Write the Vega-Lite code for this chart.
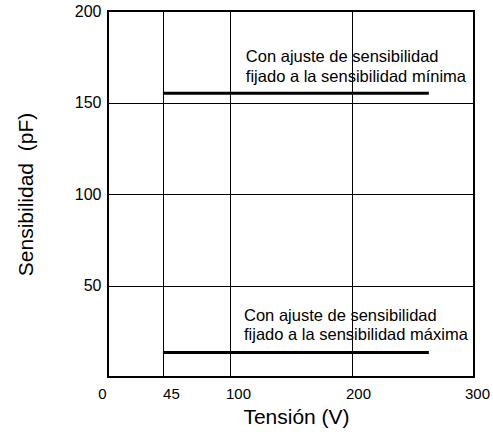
{
  "$schema": "https://vega.github.io/schema/vega-lite/v6.json",
  "width": 366,
  "height": 366,
  "autosize": {"type": "none"},
  "padding": {"left": 108, "top": 11, "right": 19, "bottom": 55},
  "config": {
    "font": "Liberation Sans",
    "view": {"stroke": "black", "strokeWidth": 2},
    "axis": {
      "domain": false,
      "ticks": false,
      "grid": true,
      "gridColor": "black",
      "gridWidth": 1,
      "gridOpacity": 1,
      "labelFont": "Liberation Sans",
      "labelFontSize": 16,
      "labelColor": "black",
      "titleFont": "Liberation Sans",
      "titleFontSize": 21,
      "titleFontWeight": "normal",
      "titleColor": "black"
    }
  },
  "datasets": {
    "curvas": [
      {"serie": "minima", "tension_ini": 45, "tension_fin": 263, "sens": 155},
      {"serie": "maxima", "tension_ini": 45, "tension_fin": 263, "sens": 13.4}
    ],
    "notas": [
      {"texto": "Con ajuste de sensibilidad", "tension": 113, "sens": 172.3},
      {"texto": "fijado a la sensibilidad mínima", "tension": 113, "sens": 161.4},
      {"texto": "Con ajuste de sensibilidad", "tension": 111.5, "sens": 30.8},
      {"texto": "fijado a la sensibilidad máxima", "tension": 111.5, "sens": 20.2}
    ]
  },
  "layer": [
    {
      "data": {"name": "curvas"},
      "mark": {"type": "rule", "color": "black", "strokeWidth": 3},
      "encoding": {
        "x": {
          "field": "tension_ini",
          "type": "quantitative",
          "scale": {"domain": [0, 300], "nice": false, "zero": false},
          "axis": {
            "values": [0, 45, 100, 200, 300],
            "title": "Tensión (V)",
            "labelFontSize": 15,
            "labelPadding": 9.5,
            "labelFlush": false,
            "labelOffset": {
              "condition": [
                {"test": "datum.value === 0", "value": -6},
                {"test": "datum.value === 200", "value": 6},
                {"test": "datum.value === 300", "value": 3}
              ],
              "value": 8
            },
            "titleBaseline": "alphabetic",
            "titleX": 188,
            "titleY": 46
          }
        },
        "x2": {"field": "tension_fin"},
        "y": {
          "field": "sens",
          "type": "quantitative",
          "scale": {"domain": [0, 200], "nice": false},
          "axis": {
            "values": [50, 100, 150, 200],
            "title": "Sensibilidad \u00a0(pF)",
            "labelPadding": 7,
            "labelFlush": false,
            "titleBaseline": "alphabetic",
            "titleX": -76
          }
        }
      }
    },
    {
      "data": {"name": "notas"},
      "mark": {"type": "text", "align": "left", "baseline": "alphabetic", "fontSize": 16.5, "color": "black", "font": "Liberation Sans"},
      "encoding": {
        "x": {"field": "tension", "type": "quantitative"},
        "y": {"field": "sens", "type": "quantitative"},
        "text": {"field": "texto"}
      }
    }
  ]
}
